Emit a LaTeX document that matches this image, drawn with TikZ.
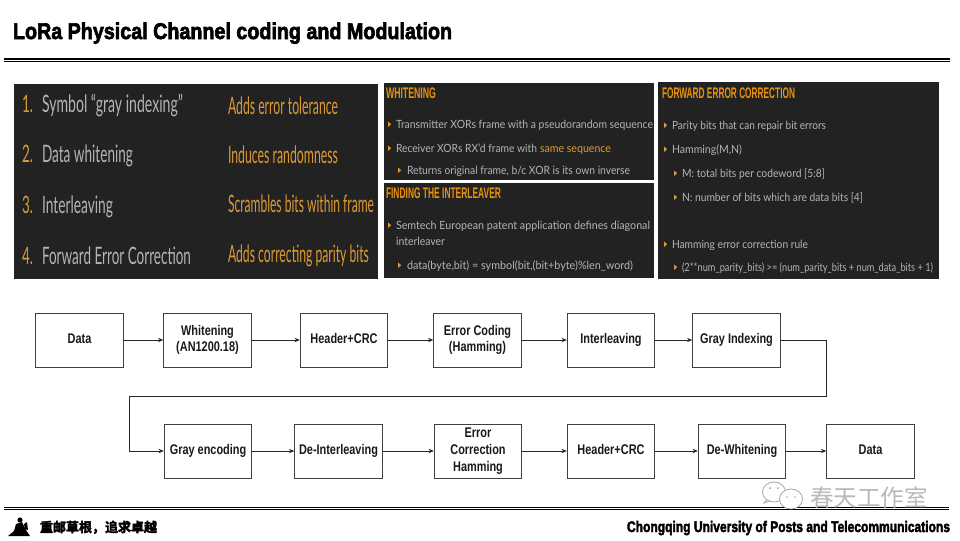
\documentclass[tikz,border=0pt]{standalone}
\usepackage{fontspec}
\usepackage{graphicx}
\setmainfont{Liberation Sans}
\newfontfamily\latofont{Lato}
\newfontfamily\arialb[FakeBold=3]{Liberation Sans Bold}
\newfontfamily\headfont{Liberation Sans Bold}
\newfontfamily\cjkb[FakeBold=3]{Noto Sans CJK SC Bold}
\newfontfamily\cjkl{Noto Sans CJK SC}
\usetikzlibrary{arrows.meta}
\definecolor{panelc}{HTML}{222222}
\definecolor{orangec}{HTML}{DB9A34}
\definecolor{headc}{HTML}{E8920C}
\definecolor{grayt}{HTML}{B4B4B4}
\definecolor{boxline}{HTML}{404040}
\newlength{\fitl}
\newcommand{\fitw}[2]{\setlength{\fitl}{#1pt}\setlength{\fitl}{0.75\fitl}\resizebox{\fitl}{\height}{#2}}
\newcommand{\nrw}[1]{\scalebox{0.78}[1]{\vphantom{Ag}#1}}
\tikzset{
  x=0.75pt,y=-0.75pt,
  lab/.style={anchor=base west,inner sep=0pt,outer sep=0pt},
  big/.style={lab,font=\latofont\fontsize{18}{20}\selectfont},
  bigg/.style={big,text=grayt},
  bigo/.style={big,text=orangec},
  head/.style={lab,text=headc,font=\headfont\fontsize{11.5}{13}\selectfont},
  small/.style={lab,text=grayt,font=\latofont\fontsize{8.5}{10}\selectfont},
  bul/.style={fill=orangec,draw=none},
  flow/.style={draw=boxline,line width=0.7pt,fill=white,minimum width=65.5pt,minimum height=40.5pt,inner sep=0pt,align=center,text=black!90,font=\fontsize{10.5}{12.6}\selectfont\bfseries},
  link/.style={draw=black!85,line width=0.65pt,-{Stealth[length=4pt,width=3.2pt]}},
}
\newcommand{\bull}[2]{\fill[bul] (#1,#2-6.5) -- (#1+3.2,#2-3.8) -- (#1,#2-1) -- cycle;}
\begin{document}
\begin{tikzpicture}
\useasboundingbox (0,0) rectangle (960,540);
\fill[white] (0,0) rectangle (960,540);
% title and rules
\node[lab,font=\arialb\fontsize{17}{20}\selectfont] (title) at (13,39) {\fitw{439}{LoRa Physical Channel coding and Modulation}};
\fill[black] (4,58.4) rectangle (950,60.2);
\fill[black] (4,61) rectangle (950,61.7);
\fill[black] (4,506.6) rectangle (949,508.4);
\fill[black] (4,509.1) rectangle (949,509.8);
% panels
\fill[panelc] (14,84) rectangle (378,279);
\fill[panelc] (384,83) rectangle (654,180);
\fill[panelc] (384,183) rectangle (654,278);
\fill[panelc] (658,82) rectangle (939,279);
% left panel
\node[bigo] (n1) at (22,112) {\fitw{11}{1.}};
\node[bigg] (s1) at (42,112) {\fitw{141}{Symbol “gray indexing”}};
\node[bigo] (d1) at (228,114) {\fitw{110}{Adds error tolerance}};
\node[bigo] (n2) at (22,162) {\fitw{11}{2.}};
\node[bigg] (s2) at (42,162) {\fitw{91}{Data whitening}};
\node[bigo] (d2) at (228,163) {\fitw{110}{Induces randomness}};
\node[bigo] (n3) at (22,213) {\fitw{11}{3.}};
\node[bigg] (s3) at (42,213) {\fitw{71}{Interleaving}};
\node[bigo] (d3) at (228,212) {\fitw{146}{Scrambles bits within frame}};
\node[bigo] (n4) at (22,264) {\fitw{11}{4.}};
\node[bigg] (s4) at (42,264) {\fitw{149}{Forward Error Correction}};
\node[bigo] (d4) at (228,262) {\fitw{141}{Adds correcting parity bits}};
% whitening
\node[head] (hw) at (386,98) {\fitw{50}{WHITENING}};
\bull{388}{128}\node[small] (w1) at (396,128) {\fitw{257}{Transmitter XORs frame with a pseudorandom sequence}};
\bull{388}{152}\node[small] (w2) at (396,152) {\fitw{141}{Receiver XORs RX’d frame with}};
\node[small,text=orangec] (w2b) at (540,152) {\fitw{71}{same sequence}};
\bull{398}{174}\node[small] (w3) at (407,174) {\fitw{223}{Returns original frame, b/c XOR is its own inverse}};
% interleaver
\node[head] (hi) at (386,198) {\fitw{115}{FINDING THE INTERLEAVER}};
\bull{388}{229}\node[small] (i1) at (396,229) {\fitw{254}{Semtech European patent application defines diagonal}};
\node[small] (i2) at (396,245) {\fitw{49}{interleaver}};
\bull{398}{269}\node[small] (i3) at (407,269) {\fitw{226}{data(byte,bit) = symbol(bit,(bit+byte)\%len\_word)}};
% FEC
\node[head] (hf) at (662,98) {\fitw{133}{FORWARD ERROR CORRECTION}};
\bull{664}{129}\node[small] (f1) at (672,129) {\fitw{154}{Parity bits that can repair bit errors}};
\bull{664}{153}\node[small] (f2) at (672,153) {\fitw{70}{Hamming(M,N)}};
\bull{674}{177}\node[small] (f3) at (682,177) {\fitw{143}{M: total bits per codeword [5:8]}};
\bull{674}{201}\node[small] (f4) at (682,201) {\fitw{181}{N: number of bits which are data bits [4]}};
\bull{664}{248}\node[small] (f5) at (672,248) {\fitw{136}{Hamming error correction rule}};
\bull{674}{271}\node[small] (f6) at (682,271) {\fitw{251}{(2**num\_parity\_bits) >= (num\_parity\_bits + num\_data\_bits + 1)}};
% flow
\node[flow] (a1) at (79.5,340) {\nrw{Data}};
\node[flow] (a2) at (207.5,340) {\nrw{Whitening}\\\nrw{(AN1200.18)}};
\node[flow] (a3) at (344,340) {\nrw{Header+CRC}};
\node[flow] (a4) at (477.5,340) {\nrw{Error Coding}\\\nrw{(Hamming)}};
\node[flow] (a5) at (611,340) {\nrw{Interleaving}};
\node[flow] (a6) at (736.5,340) {\nrw{Gray Indexing}};
\node[flow] (b1) at (208,451) {\nrw{Gray encoding}};
\node[flow] (b2) at (338.5,451) {\nrw{De-Interleaving}};
\node[flow] (b3) at (478,451) {\nrw{Error}\\\nrw{Correction}\\\nrw{Hamming}};
\node[flow] (b4) at (611,451) {\nrw{Header+CRC}};
\node[flow] (b5) at (742,451) {\nrw{De-Whitening}};
\node[flow] (b6) at (870.5,451) {\nrw{Data}};
\draw[link] (a1) -- (a2);
\draw[link] (a2) -- (a3);
\draw[link] (a3) -- (a4);
\draw[link] (a4) -- (a5);
\draw[link] (a5) -- (a6);
\coordinate (c1) at (826,340);
\coordinate (c2) at (826,396);
\coordinate (c3) at (129,396);
\coordinate (c4) at (129,451);
\draw[link] (a6.east) -- (c1) -- (c2) -- (c3) -- (c4) -- (b1.west);
\draw[link] (b1) -- (b2);
\draw[link] (b2) -- (b3);
\draw[link] (b3) -- (b4);
\draw[link] (b4) -- (b5);
\draw[link] (b5) -- (b6);
% watermark
\draw[draw=gray!70,fill=white,line width=0.6pt] (764,503) -- (768,498) -- (772,500) -- cycle;
\draw[draw=gray!70,fill=white,line width=0.6pt] (774,492) ellipse (11.5 and 10);
\draw[draw=gray!70,fill=white,line width=0.6pt] (791,499) ellipse (11.5 and 10);
\fill[gray!70] (770,488) circle (1);
\fill[gray!70] (778,488) circle (1);
\fill[gray!70] (787,497) circle (0.8);
\fill[gray!70] (795,497) circle (0.8);
\node[lab,text=gray!55,font=\cjkl\fontsize{17.5}{20}\selectfont] (wm) at (810,506) {\fitw{118}{春天工作室}};
% footer
\node[lab,font=\cjkb\fontsize{9.8}{12}\selectfont] (fl) at (40,532) {\fitw{117}{重邮草根，追求卓越}};
\node[lab,font=\arialb\fontsize{11.5}{14}\selectfont] (fr) at (627,532) {\fitw{323}{Chongqing University of Posts and Telecommunications}};
% icon
\fill[black] (20,520) circle (2.6);
\fill[black] (16,524) -- (22,522) -- (26,530) -- (30,536) -- (8,536) -- (14,531) -- cycle;
\fill[black] (24,524) -- (27,522) -- (28,530) -- (25,529) -- cycle;
\end{tikzpicture}
\end{document}
